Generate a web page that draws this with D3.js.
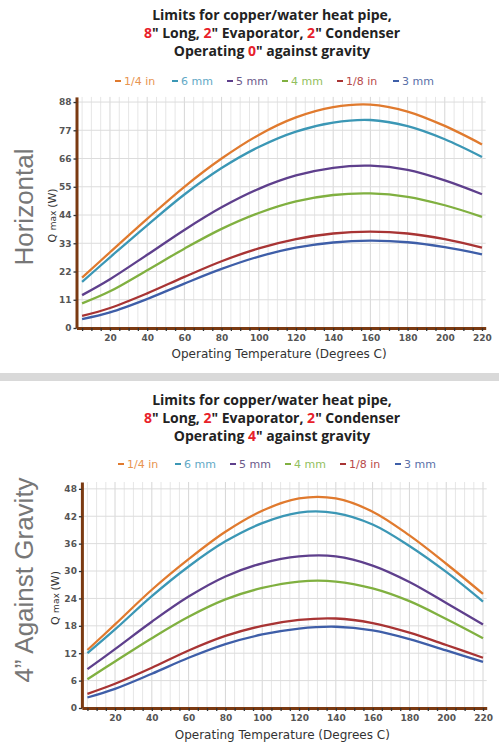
<!DOCTYPE html>
<html>
<head>
<meta charset="utf-8">
<script src="https://cdn.jsdelivr.net/npm/d3@7"></script>
<style>
  body { margin: 0; background: #fff; }
  svg { display: block; }
</style>
</head>
<body>
<svg id="viz"></svg>
<script>
// temperatures (deg C) where values were read
const temps = [5, 20, 40, 60, 80, 100, 120, 140, 160, 180, 200, 220];

const seriesNames = ["1/4 in", "6 mm", "5 mm", "4 mm", "1/8 in", "3 mm"];
const seriesColors = ["#e07a2e", "#3b97b5", "#5e3f8c", "#80b040", "#a83434", "#3e5ea8"];
const legendColors = ["#e8944f", "#62a9c6", "#6b5a8a", "#92c05e", "#b84a4a", "#5a70a8"];

// Horizontal (0" against gravity)
const horiz14in = [19.6, 29.5, 42.5, 55.0, 66.0, 75.2, 82.0, 86.0, 87.0, 84.3, 78.7, 71.5];
const horiz6mm  = [18.0, 27.5, 40.0, 52.0, 62.3, 70.5, 76.5, 80.0, 81.0, 78.6, 73.5, 66.6];
const horiz5mm  = [12.8, 19.0, 28.5, 38.2, 47.0, 54.2, 59.4, 62.4, 63.2, 61.6, 57.5, 52.1];
const horiz4mm  = [9.6, 14.3, 22.5, 30.9, 38.6, 44.8, 49.3, 51.8, 52.4, 51.1, 47.8, 43.3];
const horiz18in = [4.7, 7.8, 13.5, 19.9, 26.0, 31.0, 34.6, 36.8, 37.5, 36.8, 34.6, 31.3];
const horiz3mm  = [3.5, 6.1, 11.3, 17.3, 23.0, 27.8, 31.3, 33.3, 34.0, 33.4, 31.5, 28.7];

// 4" against gravity
const grav14in = [12.7, 18.3, 25.9, 32.6, 38.6, 43.2, 45.9, 45.9, 43.0, 37.8, 31.6, 25.0];
const grav6mm  = [12.0, 17.2, 24.5, 31.0, 36.5, 40.5, 42.8, 42.7, 40.2, 35.5, 29.8, 23.3];
const grav5mm  = [8.5, 12.9, 18.9, 24.4, 28.8, 31.7, 33.2, 33.2, 31.2, 27.6, 23.0, 18.3];
const grav4mm  = [6.3, 10.2, 15.3, 20.0, 23.8, 26.3, 27.7, 27.7, 26.2, 23.4, 19.5, 15.3];
const grav18in = [3.1, 5.3, 8.8, 12.6, 15.8, 18.0, 19.3, 19.6, 18.6, 16.5, 13.8, 11.0];
const grav3mm  = [2.3, 4.2, 7.5, 11.0, 14.0, 16.1, 17.4, 17.8, 17.0, 15.1, 12.6, 10.1];

const horizTicks = [0, 11, 22, 33, 44, 55, 66, 77, 88];
const gravTicks = [0, 6, 12, 18, 24, 30, 36, 42, 48];

const width = 499, height = 756;
const svg = d3.select("#viz").attr("width", width).attr("height", height);

const axisColor = "#7b3a12";
const titleFont = "'Open Sans', 'DejaVu Sans', sans-serif";
const tickFont = "'DejaVu Sans', Verdana, sans-serif";

// grey separator between the two charts
svg.append("rect")
  .attr("x", 0).attr("y", 373).attr("width", width).attr("height", 8)
  .attr("fill", "#d9d9d9");

function drawPanel(opts) {
  const g = svg.append("g");

  // title, numbers in red
  const title = g.append("text")
    .attr("text-anchor", "middle")
    .attr("font-family", titleFont)
    .attr("font-weight", "bold")
    .attr("font-size", 14)
    .attr("fill", "#222");
  opts.titleLines.forEach((parts, i) => {
    parts.forEach((p, j) => {
      const ts = title.append("tspan").text(p.t).attr("fill", p.red ? "#e8212a" : "#222");
      if (j === 0) ts.attr("x", 272).attr("y", opts.titleY + i * 18);
    });
  });

  // legend
  const legend = g.append("g").attr("transform", `translate(0,${opts.legendY})`);
  seriesNames.forEach((name, i) => {
    const x0 = opts.legendX[i];
    legend.append("line")
      .attr("x1", x0).attr("x2", x0 + 6).attr("y1", -4).attr("y2", -4)
      .attr("stroke", seriesColors[i]).attr("stroke-width", 2);
    legend.append("text")
      .attr("x", x0 + 9).attr("y", 0)
      .attr("font-family", tickFont).attr("font-size", 11)
      .attr("fill", legendColors[i])
      .text(name);
  });

  const x = d3.scaleLinear().domain([2, 222]).range(opts.xRange);
  const y = d3.scaleLinear().domain([0, opts.yMax]).range(opts.yRange);

  const left = opts.xRange[0], right = opts.xRange[1];
  const top = opts.yRange[1], bottom = opts.yRange[0];

  // grid
  g.append("g").selectAll("line")
    .data(d3.range(5, 221, 5))
    .join("line")
      .attr("x1", d => x(d)).attr("x2", d => x(d))
      .attr("y1", top).attr("y2", bottom)
      .attr("stroke", d => d % 20 === 0 ? "#d6d6d6" : "#e6e6e6")
      .attr("stroke-width", 1);
  g.append("g").selectAll("line")
    .data(opts.yTicks.slice(1))
    .join("line")
      .attr("x1", left).attr("x2", right)
      .attr("y1", d => y(d)).attr("y2", d => y(d))
      .attr("stroke", "#dcdcdc")
      .attr("stroke-width", 1);

  // lines
  const line = d3.line()
    .x((d, i) => x(temps[i]))
    .y(d => y(d))
    .curve(d3.curveCatmullRom);
  g.append("g").selectAll("path")
    .data(opts.series)
    .join("path")
      .attr("d", d => line(d))
      .attr("fill", "none")
      .attr("stroke", (d, i) => seriesColors[i])
      .attr("stroke-width", 2.3);

  // axes
  const xAxis = d3.axisBottom(x)
    .tickValues(d3.range(5, 221, 5))
    .tickFormat(d => d % 20 === 0 ? d : "")
    .tickSize(3).tickSizeOuter(0).tickPadding(4);
  const xg = g.append("g").attr("transform", `translate(0,${bottom})`).call(xAxis);
  xg.select(".domain").attr("stroke", axisColor).attr("stroke-width", 3);
  xg.selectAll(".tick line").attr("stroke", "#333").attr("stroke-width", 1.3);
  xg.selectAll(".tick text")
    .attr("font-family", tickFont).attr("font-size", 9).attr("font-weight", "bold")
    .attr("fill", "#555");

  const yAxis = d3.axisLeft(y)
    .tickValues(opts.yTicks)
    .tickSize(3).tickSizeOuter(0).tickPadding(2);
  const yg = g.append("g").attr("transform", `translate(${left},0)`).call(yAxis);
  yg.select(".domain").attr("stroke", axisColor).attr("stroke-width", 3);
  yg.selectAll(".tick line").attr("stroke", "#333").attr("stroke-width", 1.3);
  yg.selectAll(".tick text")
    .attr("font-family", tickFont).attr("font-size", 9).attr("font-weight", "bold")
    .attr("fill", "#555");

  // axis titles
  g.append("text")
    .attr("x", (left + right) / 2 - 2).attr("y", opts.xTitleY)
    .attr("text-anchor", "middle")
    .attr("font-family", tickFont).attr("font-size", 12)
    .attr("fill", "#333")
    .text("Operating Temperature (Degrees C)");

  const yt = g.append("text")
    .attr("transform", `translate(${opts.yTitleX},${(top + bottom) / 2 + 3}) rotate(-90)`)
    .attr("text-anchor", "middle")
    .attr("font-family", tickFont).attr("font-size", 11)
    .attr("fill", "#333");
  yt.append("tspan").text("Q ");
  yt.append("tspan").attr("font-size", 9).text("max ");
  yt.append("tspan").text("(W)");

  // big side label
  g.append("text")
    .attr("transform", `translate(33,${opts.sideY}) rotate(-90)`)
    .attr("text-anchor", "middle")
    .attr("font-family", "'Liberation Sans', Arial, sans-serif")
    .attr("font-size", 26)
    .attr("fill", "#777")
    .text(opts.sideLabel);
}

drawPanel({
  titleLines: [
    [{t: "Limits for copper/water heat pipe,"}],
    [{t: "8", red: true}, {t: "\" Long, "}, {t: "2", red: true}, {t: "\" Evaporator, "}, {t: "2", red: true}, {t: "\" Condenser"}],
    [{t: "Operating "}, {t: "0", red: true}, {t: "\" against gravity"}]
  ],
  titleY: 20,
  legendY: 85,
  legendX: [115, 172, 227, 282, 337, 393],
  xRange: [76.5, 485.7],
  yRange: [328, 96.9],
  yMax: 90,
  yTicks: horizTicks,
  series: [horiz14in, horiz6mm, horiz5mm, horiz4mm, horiz18in, horiz3mm],
  xTitleY: 358,
  yTitleX: 56,
  sideLabel: "Horizontal",
  sideY: 207
});

drawPanel({
  titleLines: [
    [{t: "Limits for copper/water heat pipe,"}],
    [{t: "8", red: true}, {t: "\" Long, "}, {t: "2", red: true}, {t: "\" Evaporator, "}, {t: "2", red: true}, {t: "\" Condenser"}],
    [{t: "Operating "}, {t: "4", red: true}, {t: "\" against gravity"}]
  ],
  titleY: 405,
  legendY: 468,
  legendX: [118, 175, 230, 285, 340, 395],
  xRange: [81.9, 486.7],
  yRange: [708, 482],
  yMax: 49.5,
  yTicks: gravTicks,
  series: [grav14in, grav6mm, grav5mm, grav4mm, grav18in, grav3mm],
  xTitleY: 739,
  yTitleX: 59,
  sideLabel: "4\u201D Against Gravity",
  sideY: 580
});
</script>
</body>
</html>
